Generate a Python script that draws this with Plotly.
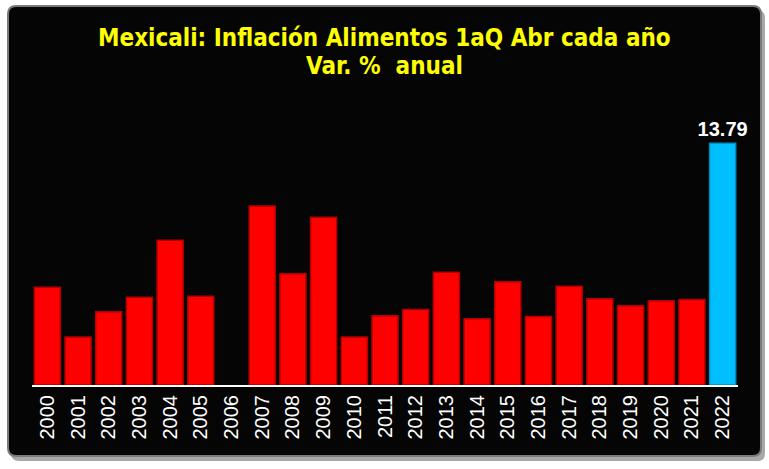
import plotly.graph_objects as go

years = [str(y) for y in range(2000, 2023)]
values = [5.57, 2.74, 4.18, 5.00, 8.25, 5.06, 0.0, 10.21, 6.35, 9.57, 2.74, 3.95,
          4.30, 6.43, 3.78, 5.89, 3.90, 5.63, 4.92, 4.52, 4.81, 4.87, 13.79]
highlight_label = "13.79"

colors = ["#FF0000"] * (len(values) - 1) + ["#00BFFF"]
edge = ["#B00000"] * (len(values) - 1) + ["#0090C0"]
edge_w = [0 if v == 0 else 1.5 for v in values]
texts = [""] * (len(values) - 1) + [f"<b>{highlight_label}</b>"]

W, H = 769, 469
L, R, T, B = 32, 31, 122, 84
pw, ph = W - L - R, H - T - B

def px(x):
    return (x - L) / pw

def py(y):
    return (H - B - y) / ph

def rounded(x0, y0, x1, y1, r):
    X0, X1 = px(x0), px(x1)
    Y0, Y1 = py(y0), py(y1)
    rx, ry = r / pw, r / ph
    return (f"M {X0+rx},{Y0} L {X1-rx},{Y0} Q {X1},{Y0} {X1},{Y0-ry} "
            f"L {X1},{Y1+ry} Q {X1},{Y1} {X1-rx},{Y1} L {X0+rx},{Y1} "
            f"Q {X0},{Y1} {X0},{Y1+ry} L {X0},{Y0-ry} Q {X0},{Y0} {X0+rx},{Y0} Z")

fig = go.Figure()
fig.add_trace(go.Bar(
    x=years, y=values,
    marker=dict(color=colors, line=dict(color=edge, width=edge_w)),
    text=texts, textposition="outside", cliponaxis=False, constraintext="none",
    textfont=dict(color="white", size=20, family="Liberation Sans"),
))

shapes = [
    dict(type="path", xref="paper", yref="paper", path=rounded(11, 10, 765, 461, 8),
         fillcolor="#a8a8a8", line=dict(width=0), layer="below"),
    dict(type="path", xref="paper", yref="paper", path=rounded(8, 6, 761, 456, 8),
         fillcolor="#050505", line=dict(color="#7a7a7a", width=2), layer="below"),
]

title_font = dict(color="#FFFF00", size=24,
                  family="Liberation Sans Narrow, DejaVu Sans Condensed, Liberation Sans")

fig.update_layout(
    width=W, height=H,
    margin=dict(l=L, r=R, t=T, b=B),
    paper_bgcolor="white",
    plot_bgcolor="rgba(0,0,0,0)",
    bargap=0.15,
    showlegend=False,
    shapes=shapes,
    annotations=[
        dict(text="<b>Mexicali: Inflación Alimentos 1aQ Abr cada año</b>",
             xref="paper", yref="paper", x=px(384), y=py(38), showarrow=False,
             font=title_font, xanchor="center", yanchor="middle"),
        dict(text="<b>Var. %  anual</b>",
             xref="paper", yref="paper", x=px(384), y=py(66), showarrow=False,
             font=title_font, xanchor="center", yanchor="middle"),
    ],
    xaxis=dict(
        showline=True, linecolor="white", linewidth=2,
        tickangle=-90, tickfont=dict(color="white", size=20, family="Liberation Sans"),
        showgrid=False, ticks="", zeroline=False,
    ),
    yaxis=dict(range=[0, 15], visible=False, showgrid=False, zeroline=False),
)

fig.write_html("out.html", config={"displayModeBar": False},
               post_script="document.body.style.margin='0';")
